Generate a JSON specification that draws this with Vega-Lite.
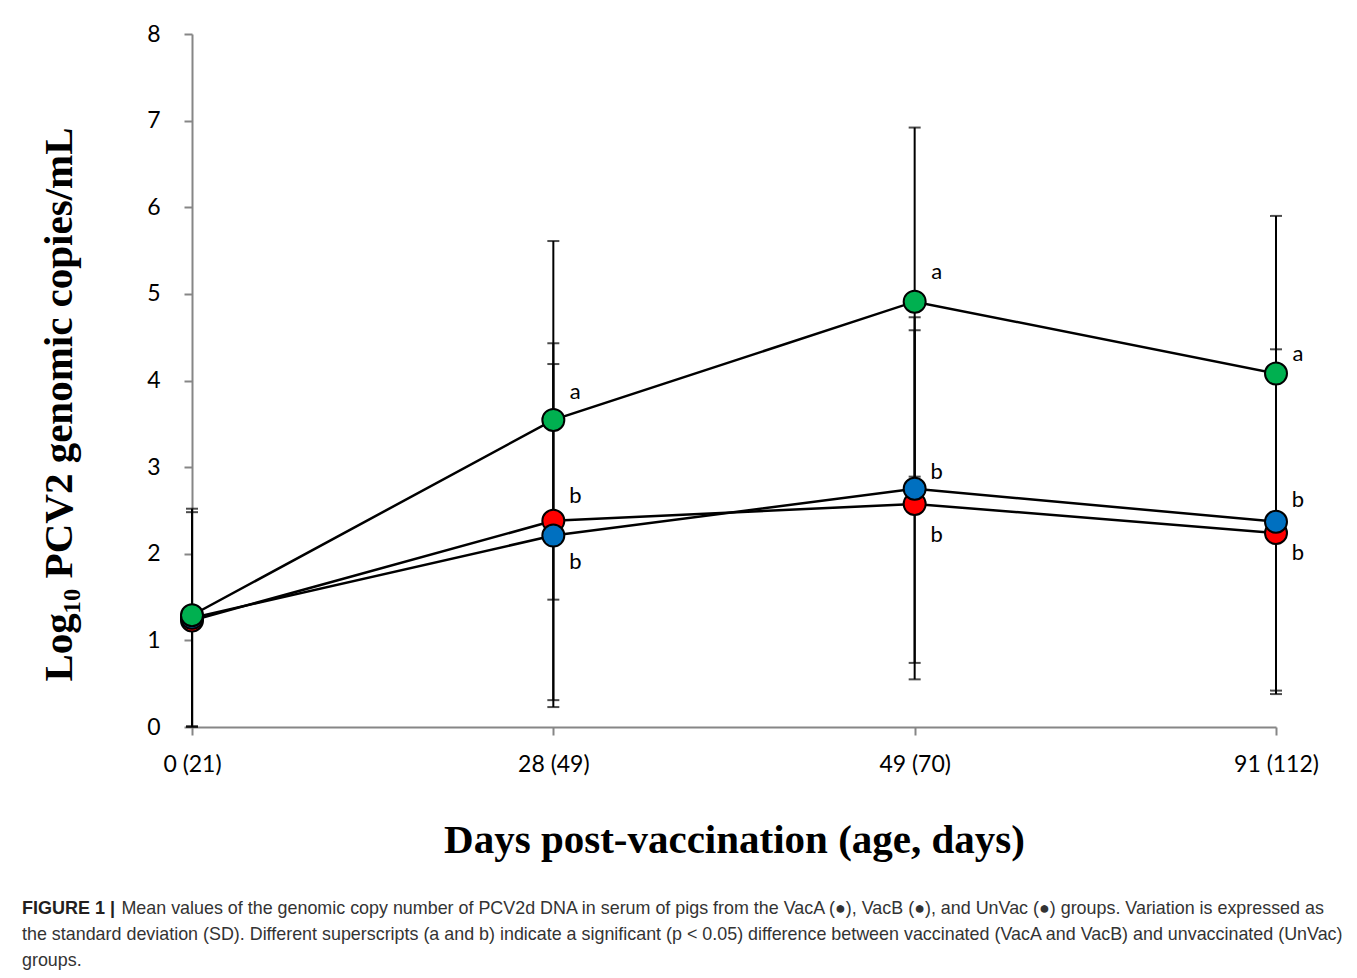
{
  "$schema": "https://vega.github.io/schema/vega-lite/v6.json",
  "width": 1084,
  "height": 693,
  "autosize": "none",
  "padding": {"left": 192, "top": 34, "right": 81, "bottom": 251},
  "background": "white",
  "config": {"view": {"stroke": null}, "font": "Lato"},
  "title": {
    "text": "FIGURE 1 |",
    "subtitle": [
      "\u200b\u00a0\u00a0\u00a0\u00a0\u00a0\u00a0\u00a0\u00a0\u00a0\u00a0\u00a0\u00a0\u00a0\u00a0\u00a0\u00a0\u00a0\u00a0\u00a0\u00a0Mean values of the genomic copy number of PCV2d DNA in serum of pigs from the VacA (●), VacB (●), and UnVac (●) groups. Variation is expressed as",
      "the standard deviation (SD). Different superscripts (a and b) indicate a significant (p < 0.05) difference between vaccinated (VacA and VacB) and unvaccinated (UnVac)",
      "groups."
    ],
    "orient": "bottom",
    "anchor": "start",
    "frame": "group",
    "dx": -170,
    "offset": 40,
    "font": "Liberation Sans",
    "fontSize": 18,
    "fontWeight": "bold",
    "color": "#231f20",
    "subtitleFont": "Liberation Sans",
    "subtitleFontSize": 17.9,
    "subtitleColor": "#333333",
    "subtitleLineHeight": 26,
    "subtitlePadding": -18
  },
  "datasets": {
    "stats": [
      {"group": "VacA", "day": "0 (21)", "mean": 1.23, "lo": 0.0, "hi": 2.48},
      {"group": "VacA", "day": "28 (49)", "mean": 2.38, "lo": 0.31, "hi": 4.43},
      {"group": "VacA", "day": "49 (70)", "mean": 2.575, "lo": 0.55, "hi": 4.58},
      {"group": "VacA", "day": "91 (112)", "mean": 2.24, "lo": 0.42, "hi": 4.1},
      {"group": "VacB", "day": "0 (21)", "mean": 1.26, "lo": 0.01, "hi": 2.52},
      {"group": "VacB", "day": "28 (49)", "mean": 2.21, "lo": 0.23, "hi": 4.19},
      {"group": "VacB", "day": "49 (70)", "mean": 2.75, "lo": 0.74, "hi": 4.73},
      {"group": "VacB", "day": "91 (112)", "mean": 2.37, "lo": 0.38, "hi": 4.36},
      {"group": "UnVac", "day": "0 (21)", "mean": 1.29, "lo": 1.29, "hi": 1.29},
      {"group": "UnVac", "day": "28 (49)", "mean": 3.545, "lo": 1.47, "hi": 5.61},
      {"group": "UnVac", "day": "49 (70)", "mean": 4.91, "lo": 2.89, "hi": 6.92},
      {"group": "UnVac", "day": "91 (112)", "mean": 4.08, "lo": 2.26, "hi": 5.9}
    ],
    "labels": [
      {"day": "28 (49)", "pos": 3.87, "label": "a"},
      {"day": "28 (49)", "pos": 2.67, "label": "b"},
      {"day": "28 (49)", "pos": 1.9, "label": "b"},
      {"day": "49 (70)", "pos": 5.25, "label": "a"},
      {"day": "49 (70)", "pos": 2.94, "label": "b"},
      {"day": "49 (70)", "pos": 2.22, "label": "b"},
      {"day": "91 (112)", "pos": 4.31, "label": "a"},
      {"day": "91 (112)", "pos": 2.62, "label": "b"},
      {"day": "91 (112)", "pos": 2.01, "label": "b"}
    ]
  },
  "data": {"name": "stats"},
  "encoding": {
    "x": {
      "field": "day",
      "type": "ordinal",
      "sort": ["0 (21)", "28 (49)", "49 (70)", "91 (112)"],
      "scale": {"type": "point", "padding": 0},
      "axis": {
        "title": "Days post-vaccination (age, days)",
        "titleFont": "Liberation Serif",
        "titleFontSize": 41,
        "titleFontWeight": "bold",
        "titleColor": "black",
        "titlePadding": 44,
        "labelAngle": 0,
        "labelFont": "Lato",
        "labelFontSize": 23,
        "labelColor": "black",
        "labelPadding": 18,
        "domainColor": "#868686",
        "domainWidth": 2,
        "tickColor": "#868686",
        "tickWidth": 2,
        "tickSize": 8,
        "grid": false
      }
    }
  },
  "layer": [
    {
      "mark": {"type": "rule", "color": "black", "strokeWidth": 2},
      "encoding": {
        "y": {
          "field": "lo",
          "type": "quantitative",
          "scale": {"domain": [0, 8], "nice": false, "zero": true},
          "axis": {
            "title": "Log₁₀ PCV2 genomic copies/mL",
            "titleFont": "Liberation Serif",
            "titleFontSize": 41,
            "titleFontWeight": "bold",
            "titleColor": "black",
            "titleX": -112,
            "titleY": 370,
            "values": [0, 1, 2, 3, 4, 5, 6, 7, 8],
            "format": "d",
            "labelFont": "Lato",
            "labelFontSize": 23,
            "labelColor": "black",
            "labelPadding": 24,
            "domainColor": "#868686",
            "domainWidth": 2,
            "tickColor": "#868686",
            "tickWidth": 2,
            "tickSize": 8,
            "grid": false
          }
        },
        "y2": {"field": "hi"}
      }
    },
    {
      "mark": {"type": "tick", "orient": "horizontal", "color": "black", "size": 12, "thickness": 2},
      "encoding": {"y": {"field": "lo", "type": "quantitative"}}
    },
    {
      "mark": {"type": "tick", "orient": "horizontal", "color": "black", "size": 12, "thickness": 2},
      "encoding": {"y": {"field": "hi", "type": "quantitative"}}
    },
    {
      "mark": {"type": "line", "color": "black", "strokeWidth": 2.5},
      "encoding": {
        "y": {"field": "mean", "type": "quantitative"},
        "detail": {"field": "group"}
      }
    },
    {
      "mark": {"type": "point", "shape": "circle", "filled": true, "size": 484, "opacity": 1, "stroke": "black", "strokeWidth": 2},
      "encoding": {
        "y": {"field": "mean", "type": "quantitative"},
        "fill": {
          "field": "group",
          "type": "nominal",
          "scale": {"domain": ["VacA", "VacB", "UnVac"], "range": ["#ff0000", "#0070c0", "#00b050"]},
          "legend": null
        }
      }
    },
    {
      "data": {"name": "labels"},
      "mark": {"type": "text", "dx": 22, "font": "Lato", "fontSize": 22, "color": "black", "baseline": "middle", "align": "center"},
      "encoding": {
        "y": {"field": "pos", "type": "quantitative"},
        "text": {"field": "label"}
      }
    }
  ]
}
